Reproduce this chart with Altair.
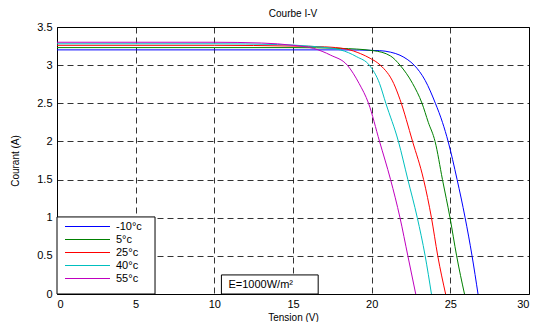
import altair as alt
import pandas as pd

# Temperature series labels and colours
temps = ["-10°c", "5°c", "25°c", "40°c", "55°c"]
colors = ["#0000ff", "#008000", "#ff0000", "#00bfbf", "#bf00bf"]

# I-V points (Tension V, Courant A)
v_m10 = [0, 10, 15, 18, 20.5, 21.2, 21.8, 22.3, 22.7, 23.4, 24.05, 24.5, 24.86, 25.43, 25.94, 26.38, 26.76]
i_m10 = [3.20, 3.20, 3.20, 3.20, 3.19, 3.17, 3.13, 3.07, 3.0, 2.8, 2.5, 2.25, 2.0, 1.5, 1.0, 0.5, 0.0]

v_5 = [0, 10, 15, 18, 20.1, 21.2, 21.8, 22.6, 23.2, 23.6, 24.03, 24.5, 24.98, 25.4, 25.9]
i_5 = [3.23, 3.23, 3.23, 3.22, 3.19, 3.12, 3.0, 2.76, 2.5, 2.25, 2.0, 1.5, 1.0, 0.5, 0.0]

v_25 = [0, 10, 15, 17, 18.4, 19.3, 19.9, 20.55, 21.4, 21.8, 22.6, 23.3, 23.8, 24.2, 24.7]
i_25 = [3.26, 3.26, 3.25, 3.24, 3.21, 3.15, 3.09, 3.0, 2.76, 2.55, 2.0, 1.5, 1.0, 0.5, 0.0]

v_40 = [0, 10, 14, 16, 18.0, 19.05, 19.85, 20.5, 20.9, 21.7, 22.3, 22.9, 23.4, 23.8]
i_40 = [3.28, 3.28, 3.27, 3.25, 3.20, 3.11, 3.0, 2.76, 2.5, 2.0, 1.5, 1.0, 0.5, 0.0]

v_55 = [0, 10, 13, 15, 16.3, 17.4, 18.45, 19.2, 19.8, 20.5, 21.2, 21.8, 22.3, 22.8]
i_55 = [3.30, 3.30, 3.29, 3.26, 3.22, 3.13, 3.0, 2.76, 2.5, 2.0, 1.5, 1.0, 0.5, 0.0]

x_ticks = [0, 5, 10, 15, 20, 25, 30]
y_ticks = [0, 0.5, 1, 1.5, 2, 2.5, 3, 3.5]

# annotation box (data coordinates) and text
note_text = "E=1000W/m²"
note_box = {"x": [10.45], "x2": [16.6], "y": [0.0], "y2": [0.25]}
note_pos = {"x": [10.9], "y": [0.115]}
# legend frame (data coordinates)
legend_box = {"x": [0.0], "x2": [6.23], "y": [0.0], "y2": [1.01]}

series = [(temps[0], v_m10, i_m10), (temps[1], v_5, i_5), (temps[2], v_25, i_25),
          (temps[3], v_40, i_40), (temps[4], v_55, i_55)]
rows = []
for name, vs, is_ in series:
    for k, (v, i) in enumerate(zip(vs, is_)):
        rows.append({"V": v, "I": i, "T": name, "k": k})
df = pd.DataFrame(rows)

FONT = "Liberation Sans"

xscale = alt.Scale(domain=[0, 30], nice=False)
yscale = alt.Scale(domain=[0, 3.5], nice=False)
x_axis = alt.Axis(values=x_ticks, format="~g")
y_axis = alt.Axis(values=y_ticks, format="~g")

lines = alt.Chart(df).mark_line(strokeWidth=1, interpolate="monotone", clip=True).encode(
    x=alt.X("V:Q", scale=xscale, title="Tension (V)", axis=x_axis),
    y=alt.Y("I:Q", scale=yscale, title="Courant (A)", axis=y_axis),
    color=alt.Color("T:N", scale=alt.Scale(domain=temps, range=colors), sort=temps,
                    legend=alt.Legend(title=None, orient="none", legendX=0, legendY=191.5,
                                      padding=0, symbolType="M0,0H6", symbolSize=225,
                                      symbolStrokeWidth=1, labelOffset=43, rowPadding=0,
                                      labelFont=FONT, labelFontSize=11, labelColor="black")),
    order="k:Q",
)

def frame(d):
    return alt.Chart(pd.DataFrame(d)).mark_rect(fill="white", stroke="black", strokeWidth=1).encode(
        x=alt.X("x:Q", scale=xscale, title="Tension (V)", axis=x_axis), x2="x2:Q",
        y=alt.Y("y:Q", scale=yscale, title="Courant (A)", axis=y_axis), y2="y2:Q")

txt = alt.Chart(pd.DataFrame(note_pos)).mark_text(align="left", baseline="middle", font=FONT,
                                                  fontSize=11, color="black", text=note_text).encode(
    x=alt.X("x:Q", scale=xscale, title="Tension (V)", axis=x_axis),
    y=alt.Y("y:Q", scale=yscale, title="Courant (A)", axis=y_axis))

chart = alt.layer(lines, frame(legend_box), frame(note_box), txt).properties(
    width=472, height=267,
    title=alt.TitleParams("Courbe I-V", font=FONT, fontSize=10, fontWeight="normal",
                          color="black", offset=2, anchor="middle"),
    padding={"left": 57, "top": 27, "right": 7, "bottom": 28},
    autosize=alt.AutoSizeParams(type="none"),
).configure_view(stroke="black", strokeWidth=1).configure_axis(
    domain=False, ticks=False, grid=True, gridColor="black", gridOpacity=0.8,
    gridDash=[6, 4], gridWidth=1, labelFont=FONT, labelFontSize=11, labelColor="black",
    titleFont=FONT, titleFontSize=10, titleFontWeight="normal", titleColor="black",
    labelOverlap=False,
).configure_axisX(labelPadding=4, titlePadding=3).configure_axisY(labelPadding=5, titlePadding=16)

chart.save("out.html", embed_options={"renderer": "svg", "actions": False})
